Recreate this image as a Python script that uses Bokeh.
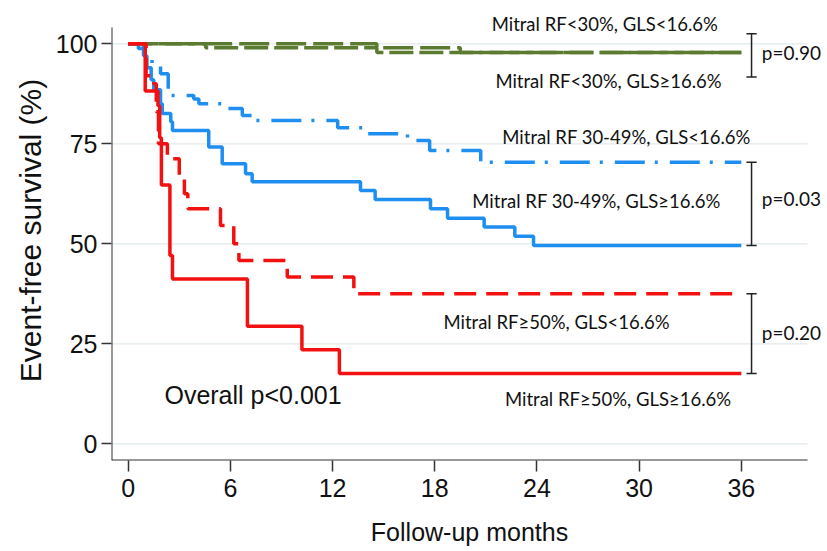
from bokeh.plotting import figure
from bokeh.models import Range1d, Label, FixedTicker
from bokeh.embed import file_html
from bokeh.resources import INLINE

# ---- data (months, event-free survival %) ----
END_TIME = 36
x_ticks = [0, 6, 12, 18, 24, 30, 36]
y_ticks = [0, 25, 50, 75, 100]

green_lt_t = [0, 14.6, 19.5]
green_lt_v = [100, 99.0, 97.8]
green_ge_t = [0, 4.55, 14.6]
green_ge_v = [100, 99.0, 97.8]

blue_lt_t = [0, 0.6, 1.0, 1.4, 1.9, 2.35, 3.85, 4.15, 5.6, 6.7, 7.45, 12.3, 14.0, 16.4, 17.7, 20.7]
blue_lt_v = [100, 98.8, 96.5, 94.6, 92.5, 87.1, 86.2, 85.0, 83.8, 82.1, 80.8, 79.0, 77.5, 75.8, 73.3, 70.4]
blue_ge_t = [0, 0.9, 1.1, 1.35, 1.5, 1.9, 2.0, 2.5, 2.6, 4.73, 5.52, 6.89, 7.28, 13.64, 14.5, 17.75, 18.75, 20.9, 22.7, 23.8]
blue_ge_v = [100, 97, 94, 91, 88.5, 85, 82.6, 80.5, 78.3, 74.2, 70.0, 67.5, 65.5, 63.3, 61.1, 58.75, 56.4, 54.2, 51.9, 49.6]

red_lt_t = [0, 1.05, 1.5, 1.65, 1.78, 2.3, 3.0, 3.3, 3.5, 5.42, 6.2, 6.5, 9.34, 13.25]
red_lt_v = [100, 92, 90, 83, 75, 71.25, 66.7, 62.5, 58.75, 54.6, 50, 45.8, 41.7, 37.5]
red_ge_t = [0, 1.0, 1.75, 1.85, 1.95, 2.45, 2.6, 7.0, 10.2, 12.4]
red_ge_v = [100, 88.2, 84.5, 76.5, 64.7, 47.1, 41.2, 29.4, 23.5, 17.6]

group_labels = ["Mitral RF<30%,  GLS<16.6%", "Mitral RF<30%, GLS\u226516.6%",
                "Mitral  RF 30-49%, GLS<16.6%", "Mitral RF 30-49%, GLS\u226516.6%",
                "Mitral RF\u226550%, GLS<16.6%", "Mitral RF\u226550%, GLS\u226516.6%"]
label_x = [28.12, 28.2, 29.4, 27.5, 25.15, 28.76]
label_y = [105.0, 90.8, 76.65, 60.8, 30.4, 11.25]

p_texts = ["p=0.90", "p=0.03", "p=0.20"]
p_text_y = [97.9, 61.25, 27.9]
bracket_lo = [91.7, blue_ge_v[-1], red_ge_v[-1]]
bracket_hi = [102.5, blue_lt_v[-1], red_lt_v[-1]]
bracket_x = 36.6
overall_text = "Overall p<0.001"

# axis extents (data units)
X_LO, X_AXIS_END, X_HI = -0.98, 39.89, 41.06
Y_LO, Y_AXIS_END, Y_HI = -4.175, 104.1, 110.825

GREEN = "#5b7b31"
BLUE = "#1f8ef1"
RED = "#f21010"
AXIS = "#333333"

p = figure(frame_width=716, frame_height=460,
           x_range=Range1d(X_LO, X_HI), y_range=Range1d(Y_LO, Y_HI),
           output_backend="svg", toolbar_location=None,
           min_border_left=111, min_border_right=0, min_border_top=0, min_border_bottom=91)
p.outline_line_color = None
p.background_fill_color = "white"
p.border_fill_color = "white"

p.xgrid.visible = False
p.ygrid.visible = False

for ax in (p.xaxis[0], p.yaxis[0]):
    ax.axis_line_color = None
    ax.major_tick_line_color = AXIS
    ax.major_tick_line_width = 1.5
    ax.minor_tick_line_color = None
    ax.major_tick_in = 0
    ax.major_label_text_font = "Liberation Sans"
    ax.major_label_text_color = "#111111"
    ax.axis_label_text_font = "Liberation Sans"
    ax.axis_label_text_font_style = "normal"
    ax.axis_label_text_color = "#111111"

p.xaxis.ticker = FixedTicker(ticks=x_ticks)
p.yaxis.ticker = FixedTicker(ticks=y_ticks)
p.xaxis.major_tick_out = 11
p.yaxis.major_tick_out = 10
p.xaxis.major_label_text_font_size = "25px"
p.yaxis.major_label_text_font_size = "25px"
p.xaxis.major_label_standoff = 7
p.yaxis.major_label_standoff = 4
p.xaxis.axis_label = "Follow-up months"
p.yaxis.axis_label = "Event-free survival (%)"
p.xaxis.axis_label_text_font_size = "25px"
p.yaxis.axis_label_text_font_size = "30px"
p.xaxis.axis_label_standoff = 18
p.yaxis.axis_label_standoff = 6

# gridlines and axis lines
p.segment(x0=[X_LO] * len(y_ticks), y0=y_ticks, x1=[X_AXIS_END] * len(y_ticks), y1=y_ticks,
          line_color="#e2eaed", line_width=1.2)
p.segment(x0=[X_LO], y0=[Y_LO], x1=[X_LO], y1=[Y_AXIS_END], line_color=AXIS, line_width=2)
p.segment(x0=[X_LO], y0=[Y_LO], x1=[X_AXIS_END], y1=[Y_LO], line_color=AXIS, line_width=2)


def km(t, v):
    return list(t) + [END_TIME], list(v) + [v[-1]]


series = [
    (green_ge_t, green_ge_v, GREEN, "24 6"),
    (green_lt_t, green_lt_v, GREEN, "30 7"),
    (blue_lt_t, blue_lt_v, BLUE, "30 10 3 12"),
    (blue_ge_t, blue_ge_v, BLUE, "solid"),
    (red_lt_t, red_lt_v, RED, "22 10"),
    (red_ge_t, red_ge_v, RED, "solid"),
]
for t, v, c, d in series:
    xs, ys = km(t, v)
    p.step(xs, ys, mode="after", line_color=c, line_width=3.5, line_dash=d)

# brackets
for lo, hi in zip(bracket_lo, bracket_hi):
    p.segment(x0=[bracket_x], y0=[lo], x1=[bracket_x], y1=[hi], line_color="#222222", line_width=1.5)
    p.segment(x0=[bracket_x - 0.3, bracket_x - 0.3], y0=[lo, hi],
              x1=[bracket_x + 0.3, bracket_x + 0.3], y1=[lo, hi], line_color="#222222", line_width=1.5)

for txt, lx, ly in zip(group_labels, label_x, label_y):
    p.add_layout(Label(x=lx, y=ly, text=txt, text_align="center", text_baseline="middle",
                       text_font="Lato", text_font_size="18.5px", text_color="#111111"))

for txt, ly in zip(p_texts, p_text_y):
    p.add_layout(Label(x=37.2, y=ly, text=txt, text_align="left", text_baseline="middle",
                       text_font="Lato", text_font_size="19px", text_color="#111111"))

p.add_layout(Label(x=7.33, y=12.1, text=overall_text, text_align="center", text_baseline="middle",
                   text_font="Liberation Sans", text_font_size="25px", text_color="#111111"))

open("out.html", "w").write(file_html(p, INLINE))
